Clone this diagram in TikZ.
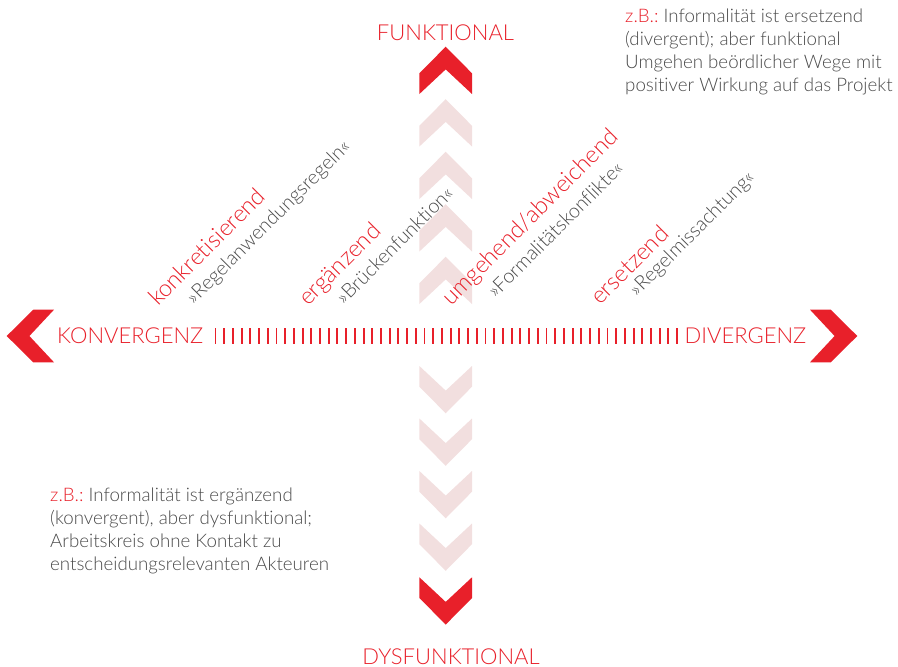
\documentclass[tikz,border=0pt]{standalone}
\usepackage{fontspec}
\setmainfont{Lato Light}[Ligatures=NoCommon]
\usepackage{tikz}
\definecolor{axisred}{HTML}{E8202A}
\definecolor{chevpink}{HTML}{F2DFDF}
\definecolor{labelgray}{HTML}{4A4A4A}
\frenchspacing

\begin{document}
\begin{tikzpicture}[x=1pt,y=-1pt,
  pole/.style={text=axisred,inner sep=0pt,font=\fontsize{22}{26}\selectfont},
  mode/.style={text=axisred,inner sep=0pt,rotate=45,anchor=base west,font=\fontsize{23.5}{28}\selectfont},
  quote/.style={text=labelgray,inner sep=0pt,rotate=45,anchor=base west,font=\fontsize{19.8}{23}\selectfont},
  example/.style={text=labelgray,inner sep=0pt,anchor=north west,align=left,font=\fontsize{18.7}{23}\selectfont},
  tick/.style={draw=axisred,line width=1.9pt}]
\useasboundingbox (0,0) rectangle (898,667);

% vertical axis: chevrons up
\foreach \ay/\col in {46.7/axisred,99.2/chevpink,151.7/chevpink,204.2/chevpink,256.7/chevpink}
  \fill[\col] (445.7,\ay) -- ++(-26.3,26.6) -- ++(0,20.7) -- ++(26.3,-24.6)
    -- ++(26.3,24.6) -- ++(0,-20.7) -- cycle;
% vertical axis: chevrons down
\foreach \ty/\col in {413.3/chevpink,465.8/chevpink,518.3/chevpink,570.8/chevpink,624.6/axisred}
  \fill[\col] (445.7,\ty) -- ++(-26.3,-26.6) -- ++(0,-20.7) -- ++(26.3,24.6)
    -- ++(26.3,-24.6) -- ++(0,20.7) -- cycle;

% horizontal axis
\fill[axisred] (6.7,336) -- ++(26.6,-26.3) -- ++(20.7,0) -- ++(-24.6,26.3)
  -- ++(24.6,26.3) -- ++(-20.7,0) -- cycle;
\fill[axisred] (857.3,336) -- ++(-26.6,-26.3) -- ++(-20.7,0) -- ++(24.6,26.3)
  -- ++(-24.6,26.3) -- ++(20.7,0) -- cycle;
\foreach \i in {0,...,53}
  \draw[tick] ({215.5+8.71*\i},328) -- ++(0,16);

% poles
\node[pole,anchor=base] (funk) at (445.5,40) {FUNKTIONAL};
\node[pole,anchor=base] (dysfunk) at (451,664) {DYSFUNKTIONAL};
\node[pole,anchor=base west] (konv) at (57,343.3) {KONVERGENZ};
\node[pole,anchor=base west] (div) at (684.5,343.3) {DIVERGENZ};

% modes
\node[mode] (konkret) at (158,307) {konkretisierend};
\node[quote] (konkretq) at (194,305.5) {»Regelanwendungsregeln«};
\node[mode] (ergaenz) at (308,307) {ergänzend};
\node[quote] (ergaenzq) at (344,305.5) {»Brückenfunktion«};
\node[mode] (umgeh) at (451,307) {umgehend/abweichend};
\node[quote] (umgehq) at (495.5,299) {»Formalitätskonflikte«};
\node[mode] (ersetz) at (600,306) {ersetzend};
\node[quote] (ersetzq) at (637,297.5) {»Regelmissachtung«};

% examples
\node[example] (zbtop) at (625,8.5) {\textcolor{axisred}{z.B.:} Informalität ist ersetzend\\(divergent); aber funktional\\Umgehen beördlicher Wege mit\\positiver Wirkung auf das Projekt};
\node[example] (zbbottom) at (50,487.5) {\textcolor{axisred}{z.B.:} Informalität ist ergänzend\\(konvergent), aber dysfunktional;\\Arbeitskreis ohne Kontakt zu\\entscheidungsrelevanten Akteuren};
\end{tikzpicture}
\end{document}
